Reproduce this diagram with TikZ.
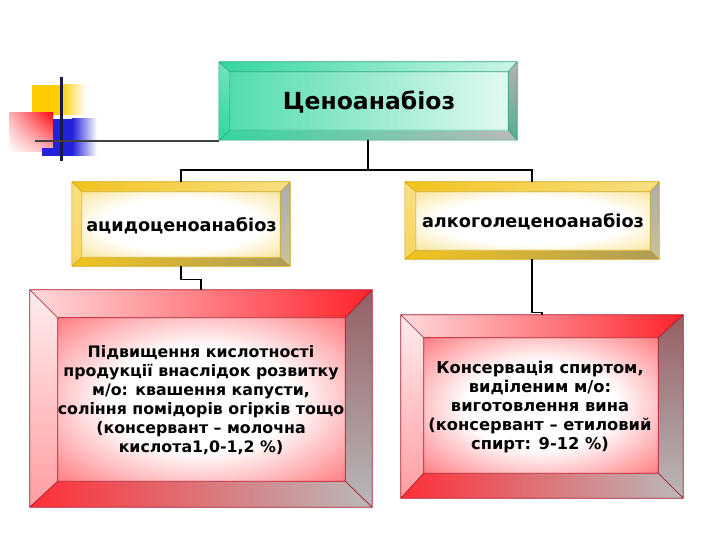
\documentclass[tikz,border=0pt]{standalone}
\usepackage{fontspec}
\setmainfont{DejaVu Sans}
\usetikzlibrary{calc,shadings}
\definecolor{tealc}{RGB}{52,214,160}
\definecolor{goldc}{RGB}{242,196,30}
\definecolor{redc}{RGB}{255,10,20}
\definecolor{yelc}{RGB}{255,204,0}
\definecolor{bluc}{RGB}{34,34,220}
\definecolor{navyc}{RGB}{26,26,70}
\definecolor{redrt}{RGB}{150,95,100}
\definecolor{redline}{RGB}{170,20,40}
\definecolor{goldline}{RGB}{205,165,20}
\definecolor{tealline}{RGB}{40,165,125}
\pgfdeclareradialshading{redfaceshade}{\pgfpoint{0bp}{0bp}}{color(0bp)=(white); color(16bp)=(white); color(38bp)=(redc!60); color(50bp)=(redc!85)}
\pgfdeclareradialshading{goldfaceshade}{\pgfpoint{0bp}{0bp}}{color(0bp)=(white); color(20bp)=(white); color(40bp)=(goldc!55); color(50bp)=(goldc!80)}
\tikzset{
  boxshape/.style={rectangle, inner sep=0pt, draw=none},
  conn/.style={draw=black, line width=1.2pt},
  lbl/.style={text=black, align=center, inner sep=0pt},
  toplbl/.style={lbl, font=\fontsize{23.5}{28}\selectfont\bfseries},
  midlbl/.style={lbl, font=\fontsize{17.7}{21}\selectfont\bfseries},
  botlbl/.style={lbl, font=\fontsize{15.8}{19}\selectfont\bfseries},
  botlblr/.style={lbl, font=\fontsize{16.3}{19}\selectfont\bfseries},
  tealtop/.style={left color=tealc, right color=tealc!25},
  tealleft/.style={top color=tealc!70, bottom color=tealc},
  tealright/.style={top color=gray!60, bottom color=tealc!50!gray},
  tealbottom/.style={left color=tealc, right color=gray!55},
  tealface/.style={left color=tealc!85, middle color=white, right color=tealc!15},
  tealln/.style={draw=tealline, line width=0.6pt},
  goldtop/.style={left color=goldc, right color=goldc!55},
  goldleft/.style={top color=goldc!55, bottom color=goldc!70},
  goldright/.style={top color=gray!65, bottom color=goldc!35!gray!60},
  goldbottom/.style={left color=goldc, right color=goldc!40!gray},
  goldface/.style={shading=goldfaceshade},
  goldln/.style={draw=goldline, line width=0.6pt},
  redtop/.style={left color=redc!15, right color=redc!90},
  redleft/.style={top color=redc!8, bottom color=redc!40},
  redright/.style={top color=redrt, bottom color=gray!55},
  redbottom/.style={left color=redc!85, right color=gray!55},
  redface/.style={shading=redfaceshade},
  redln/.style={draw=redline, line width=0.7pt},
}
\newcommand{\bevelbox}[6]{%
  \coordinate (o1) at (#1.north west);
  \coordinate (o2) at (#1.north east);
  \coordinate (o3) at (#1.south east);
  \coordinate (o4) at (#1.south west);
  \coordinate (i1) at ($(o1)+(#2,#3)$);
  \coordinate (i2) at ($(o2)+(-#4,#3)$);
  \coordinate (i3) at ($(o3)+(-#4,-#5)$);
  \coordinate (i4) at ($(o4)+(#2,-#5)$);
  \shade[#6top] (o1)--(o2)--(i2)--(i1)--cycle;
  \shade[#6left] (o1)--(i1)--(i4)--(o4)--cycle;
  \shade[#6right] (o2)--(o3)--(i3)--(i2)--cycle;
  \shade[#6bottom] (o4)--(i4)--(i3)--(o3)--cycle;
  \shade[#6face] (i1) rectangle (i3);
  \draw[#6ln] (o1) rectangle (o3) (i1) rectangle (i3) (o1)--(i1) (o2)--(i2) (o3)--(i3) (o4)--(i4);
}
\begin{document}
\begin{tikzpicture}[x=1pt,y=-1pt]
\useasboundingbox[fill=white] (0,0) rectangle (720,540);
% decoration
\fill[yelc] (32,85) rectangle (60,115);
\shade[left color=yelc, right color=white] (60,85) rectangle (86,115);
\shade[upper right=redc, upper left=redc!30, lower left=white, lower right=redc!30] (9,113) rectangle (53,152);
\fill[bluc] (53,119) rectangle (72,156);
\shade[left color=bluc, right color=white] (72,119) rectangle (97,156);
\fill[bluc] (42,148) rectangle (53,156);
\draw[line width=3pt, navyc] (61,77) -- (61,161);
\draw[line width=2.5pt, black!75] (35,141) -- (219,141);
% boxes
\node[boxshape, minimum width=298pt, minimum height=78pt] (top) at (368,101) {};
\node[boxshape, minimum width=218pt, minimum height=84pt] (mleft) at (181,224) {};
\node[boxshape, minimum width=254pt, minimum height=77pt] (mright) at (532,220.5) {};
\node[boxshape, minimum width=342pt, minimum height=217pt] (bl) at (201,398.5) {};
\node[boxshape, minimum width=282pt, minimum height=183pt] (br) at (542,406.5) {};
\bevelbox{top}{11}{10}{9}{10}{teal}
\bevelbox{mleft}{10}{10}{10}{9}{gold}
\bevelbox{mright}{11}{10}{9}{9}{gold}
\bevelbox{bl}{28}{28}{27}{26}{red}
\bevelbox{br}{23}{23}{25}{25}{red}
% texts
\node[toplbl] (ttop) at (369,102) {Ценоанабіоз};
\node[midlbl] (tleft) at (181.5,226) {ацидоценоанабіоз};
\node[midlbl] (tright) at (533,222) {алкоголеценоанабіоз};
\node[botlbl] (tbl) at (201,400) {Підвищення кислотності\\продукції внаслідок розвитку\\м/о: квашення капусти,\\соління помідорів огірків тощо\\(консервант – молочна\\кислота1,0-1,2 \%)};
\node[botlblr] (tbr) at (540,407) {Консервація спиртом,\\виділеним м/о:\\виготовлення вина\\(консервант – етиловий\\спирт: 9-12 \%)};
% connectors
\coordinate (j) at (368,170);
\draw[conn] (top.south) -- (j);
\draw[conn] (mleft.north) |- (j) -| (mright.north);
\draw[conn] (mleft.south) -- ++(0,13) -| (bl.north);
\draw[conn] (mright.south) -- ++(0,53) -| (br.north);
\end{tikzpicture}
\end{document}
